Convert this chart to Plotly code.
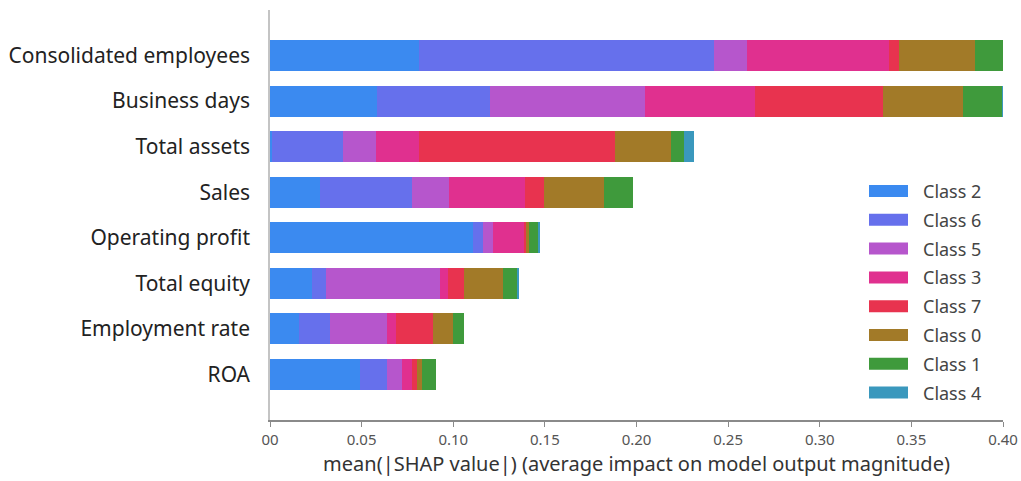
import plotly.graph_objects as go

# Features, top to bottom
features = ["Consolidated employees", "Business days", "Total assets", "Sales",
            "Operating profit", "Total equity", "Employment rate", "ROA"]

# Stacking / legend order
classes = ["Class 2", "Class 6", "Class 5", "Class 3", "Class 7", "Class 0", "Class 1", "Class 4"]
class_colors = ["#3b8af0", "#6670ec", "#b656cc", "#e0308f", "#e8334f", "#a27a28", "#3f9a3c", "#3a98bd"]

# mean(|SHAP|) per class, one list per class, following the feature order above
class_2 = [0.0815, 0.0582, 0.0010, 0.0273, 0.1110, 0.0228, 0.0160, 0.0491]
class_6 = [0.1610, 0.0619, 0.0387, 0.0500, 0.0051, 0.0078, 0.0167, 0.0146]
class_5 = [0.0176, 0.0845, 0.0181, 0.0205, 0.0058, 0.0622, 0.0310, 0.0082]
class_3 = [0.0779, 0.0601, 0.0237, 0.0415, 0.0167, 0.0045, 0.0051, 0.0054]
class_7 = [0.0054, 0.0700, 0.1068, 0.0102, 0.0011, 0.0086, 0.0203, 0.0031]
class_0 = [0.0413, 0.0436, 0.0305, 0.0328, 0.0018, 0.0211, 0.0106, 0.0024]
class_1 = [0.0164, 0.0215, 0.0073, 0.0158, 0.0051, 0.0080, 0.0063, 0.0078]
class_4 = [0.0005, 0.0003, 0.0053, 0.0000, 0.0007, 0.0006, 0.0000, 0.0000]
class_values = [class_2, class_6, class_5, class_3, class_7, class_0, class_1, class_4]

x_ticks = [0.0, 0.05, 0.10, 0.15, 0.20, 0.25, 0.30, 0.35, 0.40]
x_ticktext = ["00", "0.05", "0.10", "0.15", "0.20", "0.25", "0.30", "0.35", "0.40"]

FONT = "Noto Sans"
W, H = 1021, 481
M_L, M_R, M_T, M_B = 270, 18, 10, 61

fig = go.Figure()
for name, color, vals in zip(classes, class_colors, class_values):
    fig.add_trace(go.Bar(
        y=features, x=vals, name=name, orientation="h",
        marker=dict(color=color, line=dict(width=0)),
        showlegend=False,
    ))

# Legend drawn as wide swatches with labels on the right side of the plot
plot_w = W - M_L - M_R
plot_h = H - M_T - M_B

def px_x(px):
    return (px - M_L) / plot_w

def px_y(py):
    return 1 - (py - M_T) / plot_h

for i, (name, color) in enumerate(zip(classes, class_colors)):
    cy = 191 + i * 28.8
    fig.add_shape(type="rect", xref="paper", yref="paper",
                  x0=px_x(869), x1=px_x(908), y0=px_y(cy + 6), y1=px_y(cy - 6),
                  fillcolor=color, line=dict(width=0))
    fig.add_annotation(xref="paper", yref="paper", x=px_x(921), y=px_y(cy),
                       text=name, showarrow=False, xanchor="left", yanchor="middle",
                       font=dict(family=FONT, size=18, color="#444444"))

fig.update_layout(
    width=W, height=H,
    margin=dict(l=M_L, r=M_R, t=M_T, b=M_B),
    barmode="stack", bargap=0.32,
    plot_bgcolor="white", paper_bgcolor="white",
    font=dict(family=FONT),
)
fig.update_xaxes(
    range=[0, 0.40], tickvals=x_ticks, ticktext=x_ticktext,
    showgrid=False, zeroline=False, automargin=False,
    showline=True, linecolor="#8a8a8a", linewidth=1.5,
    ticks="outside", ticklen=5, tickcolor="#8a8a8a",
    tickfont=dict(family=FONT, size=15, color="#555555"),
    title=dict(text="mean(|SHAP value|) (average impact on model output magnitude)",
               font=dict(family=FONT, size=20, color="#333333"), standoff=9),
)
fig.update_yaxes(
    categoryorder="array", categoryarray=features,
    range=[8, -1], automargin=False,
    showgrid=False, zeroline=False,
    showline=True, linecolor="#c4c4c4", linewidth=1.5,
    ticks="", ticklabelstandoff=14,
    tickfont=dict(family=FONT, size=21, color="#222222"),
)

fig.write_html("out.html")
